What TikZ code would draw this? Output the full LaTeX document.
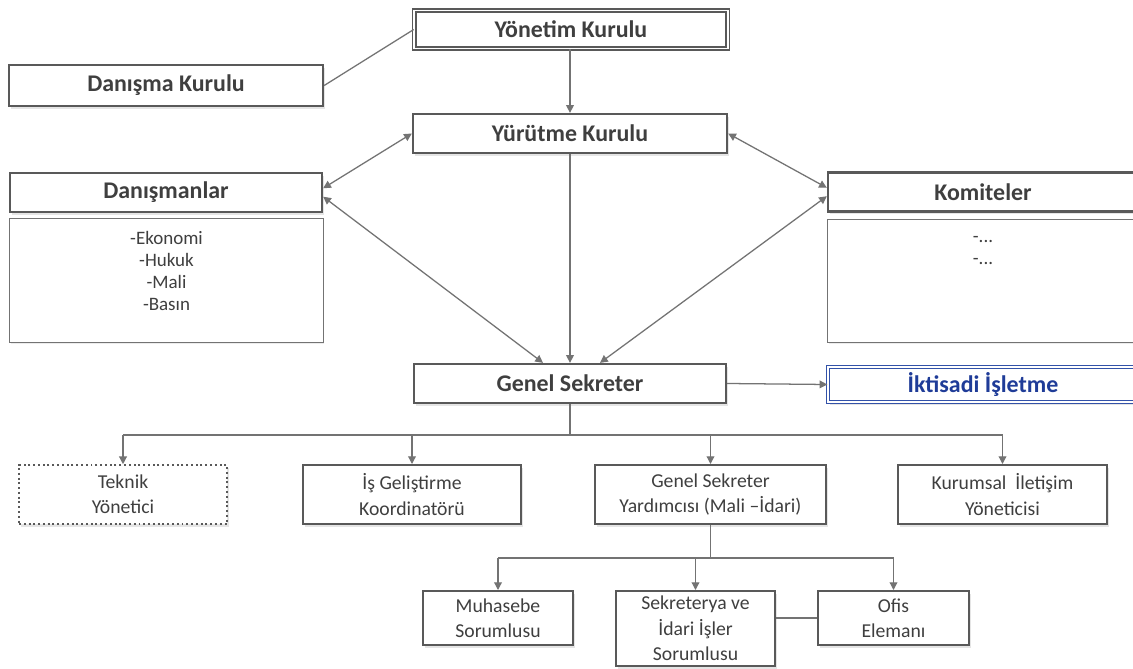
\documentclass[tikz,border=0pt]{standalone}
\usepackage{fontspec}
\setmainfont{Carlito}
\usetikzlibrary{arrows.meta,calc,shadows}
\definecolor{bordgray}{HTML}{595959}
\definecolor{linegray}{HTML}{737373}
\definecolor{txtgray}{HTML}{3F3F3F}
\definecolor{ikblue}{HTML}{3352A8}
\definecolor{iktext}{HTML}{1F3C98}

\begin{document}
\begin{tikzpicture}[x=0.025cm, y=-0.025cm]
    \tikzstyle{hbox} = [shape=rectangle, draw=bordgray, fill=white, line width=1.6pt, inner sep=2pt, text=txtgray, font=\fontsize{17}{20}\selectfont\bfseries, drop shadow={opacity=.2, shadow xshift=1.5pt, shadow yshift=-2pt}]
    \tikzstyle{dbox} = [hbox, line width=0.9pt, double=white, double distance=1.4pt]
    \tikzstyle{sbox} = [hbox, line width=1.4pt, align=center, font=\fontsize{14}{18}\selectfont]
    \tikzstyle{lbox} = [shape=rectangle, draw=linegray, fill=white, line width=0.7pt, drop shadow={opacity=.15, shadow xshift=1pt, shadow yshift=-1.5pt}]
    \tikzstyle{ltxt} = [align=center, inner sep=0pt, text=txtgray, font=\fontsize{13.5}{15.6}\selectfont]
    \tikzstyle{conn} = [draw=linegray, line width=0.9pt]
    \tikzstyle{arr} = [conn, -{Triangle[width=5.5pt, length=5.5pt]}]
    \tikzstyle{darr} = [conn, {Triangle[width=5.5pt, length=5.5pt]}-{Triangle[width=5.5pt, length=5.5pt]}]

    \useasboundingbox (0, 0) rectangle (1133, 669);
    \clip (0, 0) rectangle (1133, 669);
    \fill [white] (0, 0) rectangle (1133, 669);

    % 上层
    \path   (571, 29.5) node [dbox, name=yk, minimum width=7.83cm, minimum height=0.95cm] {Yönetim Kurulu}
            (166, 85.5) node [hbox, name=dk, minimum width=7.85cm, minimum height=1.025cm] {Danışma Kurulu}
            (570, 133.5) node [hbox, name=yrk, minimum width=7.85cm, minimum height=0.975cm] {Yürütme Kurulu}
            (166.5, 280.5) node [lbox, name=dnl, minimum width=7.825cm, minimum height=3.075cm] {}
            (166, 192.5) node [hbox, name=dn, minimum width=7.8cm, minimum height=0.975cm] {Danışmanlar}
            (983, 281) node [lbox, name=kml, minimum width=7.75cm, minimum height=3.05cm] {}
            (983, 192) node [hbox, name=km, minimum width=7.75cm, minimum height=0.975cm] {Komiteler}
            (570, 383.5) node [hbox, name=gs, minimum width=7.8cm, minimum height=0.975cm] {Genel Sekreter}
            (983, 384.5) node [dbox, draw=ikblue, text=iktext, name=ii, minimum width=7.75cm, minimum height=0.875cm] {İktisadi İşletme};

    \path   (dnl.north) node [ltxt, anchor=north, yshift=-9pt, name=dnt] {-Ekonomi\\-Hukuk\\-Mali\\-Basın}
            (kml.north) node [ltxt, anchor=north, yshift=-12pt, name=kmt] {-...\\-...};

    % 下层
    \path   (123, 494.5) node [sbox, dotted, line width=1.1pt, name=tk, minimum width=5.2cm, minimum height=1.475cm] {Teknik\\Yönetici}
            (412, 494.5) node [sbox, name=ig, minimum width=5.45cm, minimum height=1.475cm] {İş Geliştirme\\Koordinatörü}
            (710.5, 494.5) node [sbox, name=gsy, minimum width=5.775cm, minimum height=1.475cm] {Genel Sekreter\\Yardımcısı (Mali –İdari)}
            (1002.5, 494.5) node [sbox, name=kur, minimum width=5.225cm, minimum height=1.475cm] {Kurumsal~ İletişim\\Yöneticisi}
            (498, 618) node [sbox, name=mh, minimum width=3.75cm, minimum height=1.35cm] {Muhasebe\\Sorumlusu}
            (695.5, 628.5) node [sbox, name=sk, minimum width=3.975cm, minimum height=1.875cm] {Sekreterya ve\\İdari İşler\\Sorumlusu}
            (893.5, 618) node [sbox, name=of, minimum width=3.775cm, minimum height=1.35cm] {Ofis\\Elemanı};

    \coordinate (bar1) at (570, 435);
    \coordinate (bar2) at (710.5, 558);

    % 连线
    \draw [conn] (yk.west) -- (dk.east);
    \draw [arr] (yrk.north |- yk.south) -- (yrk.north);
    \draw [darr] (yrk.west) -- ([yshift=3pt]dn.east);
    \draw [darr] (yrk.east) -- ([yshift=3pt]km.west);
    \draw [darr] ([yshift=-3pt]dn.east) -- ($(gs.north)+(-27, 0)$);
    \draw [darr] ([yshift=-3pt]km.west) -- ($(gs.north)+(30, 0)$);
    \draw [arr] (yrk.south) -- (gs.north);
    \draw [arr] (gs.east) -- (ii.west);

    \draw [conn] (gs.south) -- (bar1);
    \draw [conn] (tk.north |- bar1) -- (kur.north |- bar1);
    \foreach \n in {tk, ig, gsy, kur}
        \draw [arr] (\n.north |- bar1) -- (\n.north);

    \draw [conn] (gsy.south) -- (bar2);
    \draw [conn] (mh.north |- bar2) -- (of.north |- bar2);
    \foreach \n in {mh, sk, of}
        \draw [arr] (\n.north |- bar2) -- (\n.north);
    \draw [conn] (of.west -| sk.east) -- (of.west);
\end{tikzpicture}
\end{document}
